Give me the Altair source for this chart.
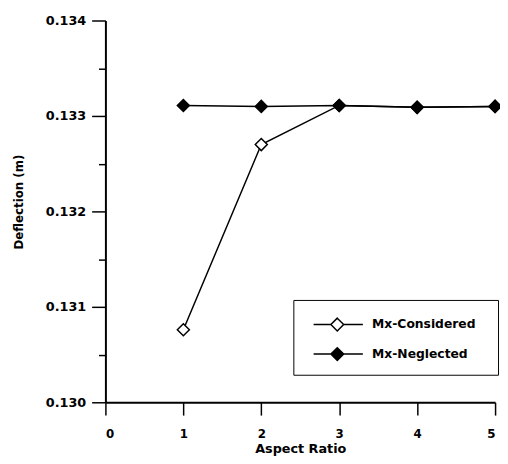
import altair as alt
import pandas as pd

aspect_ratio = [1, 2, 3, 4, 5]
mx_considered = [0.13076, 0.13270, 0.13311, 0.13309, 0.13310]
mx_neglected = [0.13311, 0.13310, 0.13311, 0.13309, 0.13310]
series_names = ["Mx-Considered", "Mx-Neglected"]
y_ticks = [0.130, 0.1305, 0.131, 0.1315, 0.132, 0.1325, 0.133, 0.1335, 0.134]
x_ticks = [0, 1, 2, 3, 4, 5]

rows = []
for name, vals in zip(series_names, [mx_considered, mx_neglected]):
    for a, v in zip(aspect_ratio, vals):
        rows.append({"ar": a, "defl": v, "series": name})
df = pd.DataFrame(rows)

FONT = "DejaVu Sans"
MAJOR = "abs(datum.value*1000 - round(datum.value*1000)) < 0.01"

x_enc = alt.X("ar:Q", title="Aspect Ratio",
              scale=alt.Scale(domain=[0, 5], nice=False, zero=False),
              axis=alt.Axis(values=x_ticks, format="d", tickSize=13, labelPadding=14,
                            labelFontSize=12, titleFontSize=13, titlePadding=3))
y_enc = alt.Y("defl:Q", title="Deflection (m)",
              scale=alt.Scale(domain=[0.130, 0.134], nice=False, zero=False),
              axis=alt.Axis(values=y_ticks, labelOverlap=False,
                            labelExpr=f"{MAJOR} ? format(datum.value, '.3f') : ''",
                            tickSize={"condition": {"test": MAJOR, "value": 14}, "value": 7},
                            labelFontSize=13, titleFontSize=12,
                            labelPadding=6, titlePadding=20, titleY=184))

lines = alt.Chart(df).mark_line(color="black", strokeWidth=1.5).encode(
    x=x_enc, y=y_enc, detail="series:N"
)

legend_path = "M-0.34,0L1.01,0M2.01,0L3.51,0M1.51,-0.5L2.01,0L1.51,0.5L1.01,0Z"

points = alt.Chart(df).mark_point(shape="diamond", filled=True, stroke="black",
                                  strokeWidth=1.5, size=150, opacity=1).encode(
    x=x_enc, y=y_enc,
    fill=alt.Fill("series:N",
                  scale=alt.Scale(domain=series_names, range=["white", "black"]),
                  legend=alt.Legend(orient="none", legendX=191, legendY=284,
                                    title="\u00a0", titleOrient="right", titlePadding=12,
                                    titleFontSize=12,
                                    symbolType=legend_path, symbolSize=676,
                                    symbolStrokeColor="black", symbolStrokeWidth=1.5,
                                    symbolOpacity=1,
                                    labelOffset=41, rowPadding=6, padding=11,
                                    strokeColor="black", fillColor="white",
                                    labelFont=FONT, labelFontWeight="bold", labelFontSize=12.5,
                                    labelColor="black")),
)

chart = (lines + points).properties(
    width=396, height=388,
    autosize=alt.AutoSizeParams(type="none"),
    padding={"left": 99, "top": 9, "right": 5, "bottom": 59},
).configure_view(stroke=None).configure_axis(
    grid=False, domainColor="black", domainWidth=2, tickColor="black", tickWidth=1.5,
    labelFont=FONT, labelFontWeight="bold", labelColor="black",
    titleFont=FONT, titleFontWeight="bold", titleColor="black",
)

chart.save("out.html", embed_options={"renderer": "svg", "actions": False})
